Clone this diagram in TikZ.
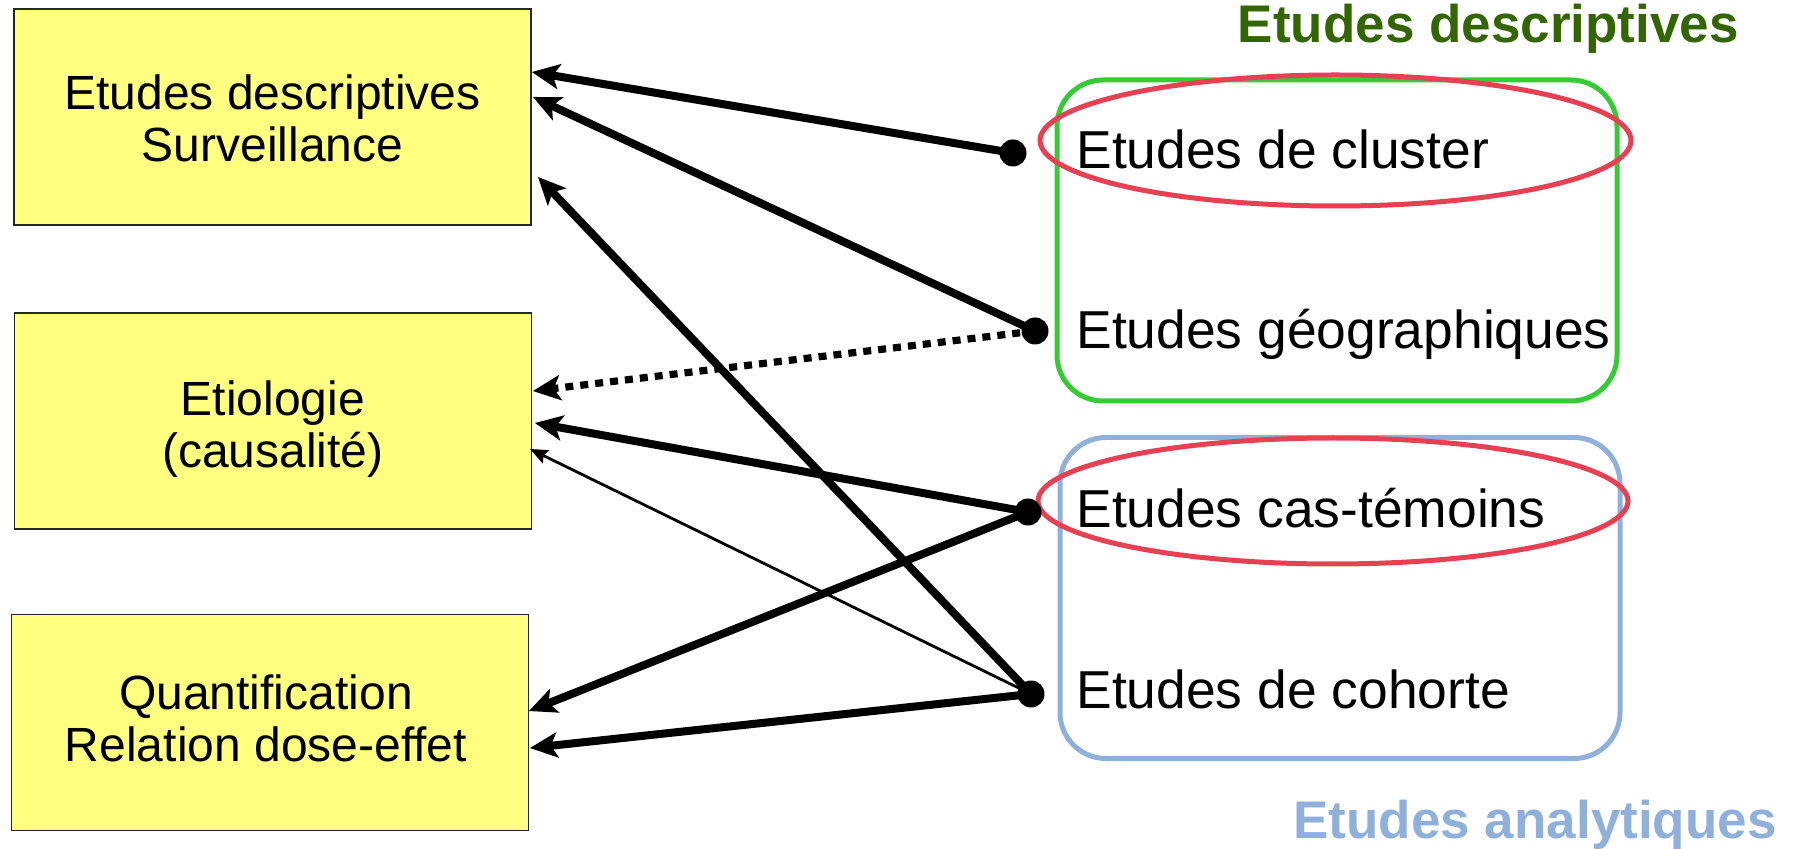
\documentclass[tikz,border=0pt]{standalone}
\usepackage{fontspec}
\setmainfont{Liberation Sans}
\usetikzlibrary{arrows.meta,shapes.geometric}

\definecolor{boxfill}{RGB}{255,255,128}
\definecolor{descgreen}{RGB}{51,204,51}
\definecolor{desctitle}{RGB}{51,102,0}
\definecolor{analblue}{RGB}{142,176,218}
\definecolor{ringred}{RGB}{230,64,82}

\tikzset{
  topic/.style={draw=black!85, line width=0.6pt, fill=boxfill,
    minimum width=258.5pt, minimum height=108pt, inner sep=0pt},
  topictext/.style={align=center, inner sep=0pt,
    font=\fontsize{24}{26}\selectfont},
  group/.style={rounded corners=23pt, line width=2.5pt,
    minimum width=280pt, minimum height=160.5pt, inner sep=0pt},
  ring/.style={ellipse, draw=ringred, line width=2.5pt, inner sep=0pt},
  study/.style={anchor=base west, inner sep=0pt,
    font=\fontsize{26.7}{30}\selectfont},
  heading/.style={anchor=base east, inner sep=0pt,
    font=\fontsize{26.5}{30}\selectfont\bfseries},
  dot/.style={circle, fill=black, inner sep=0pt, minimum size=13.5pt},
  link/.style={line width=4pt,
    -{Stealth[length=14pt,width=13pt,inset=3.5pt,line width=0pt]}},
  weaklink/.style={line width=1.4pt,
    -{Stealth[length=9pt,width=7.5pt,inset=1.5pt,line width=0pt]}},
  maybelink/.style={line width=3.6pt, dash pattern=on 4pt off 3.5pt,
    -{Stealth[length=14pt,width=13pt,inset=3.5pt,line width=0pt]}}
}

\begin{document}
\begin{tikzpicture}[x=0.5pt,y=-0.5pt]
\useasboundingbox (0,0) rectangle (1798,849);

% objectives
\node[topic] (desc) at (272.5,117) {};
\node[topic] (etio) at (273,421) {};
\node[topic] (quant) at (270,722.5) {};
\node[topictext] (desctext) at (272.5,118) {Etudes descriptives\\Surveillance};
\node[topictext] (etiotext) at (273,429) {Etiologie\\(causalité)};
\node[topictext] (quanttext) at (266,718) {Quantification\\Relation dose-effet};

% study families
\node[group, draw=descgreen] (gdesc) at (1337,240.5) {};
\node[group, draw=analblue] (ganal) at (1340,598) {};

\node[heading, text=desctitle] (hdesc) at (1739,43) {Etudes descriptives};
\node[heading, text=analblue] (hanal) at (1777,838) {Etudes analytiques};

\node[study] (cluster) at (1076,169) {Etudes de cluster};
\node[study] (geo) at (1076,349) {Etudes géographiques};
\node[study] (cas) at (1076,528) {Etudes cas-témoins};
\node[study] (coh) at (1076,708) {Etudes de cohorte};

% highlighted designs
\node[ring, minimum width=295.5pt, minimum height=65.5pt] (rcluster) at (1335.5,140.5) {};
\node[ring, minimum width=295pt, minimum height=63pt] (rcas) at (1333,501) {};

% connection points
\node[dot] (dcluster) at (1013,153) {};
\node[dot] (dgeo) at (1035,331) {};
\node[dot] (dcas) at (1028,512) {};
\node[dot] (dcoh) at (1031,694) {};

\coordinate (descA) at (532,72);
\coordinate (descB) at (533,97);
\coordinate (descC) at (538,177);
\coordinate (etioA) at (533,391);
\coordinate (etioB) at (535,423);
\coordinate (etioC) at (530,449);
\coordinate (quantA) at (529,711);
\coordinate (quantB) at (530,748);

% links
\draw[link] (dcluster.center) -- (descA);
\draw[link] (dgeo.center) -- (descB);
\draw[link] (dcoh.center) -- (descC);
\draw[maybelink] (dgeo.center) -- (etioA);
\draw[link] (dcas.center) -- (etioB);
\draw[weaklink] (dcoh.center) -- (etioC);
\draw[link] (dcas.center) -- (quantA);
\draw[link] (dcoh.center) -- (quantB);
\end{tikzpicture}
\end{document}
